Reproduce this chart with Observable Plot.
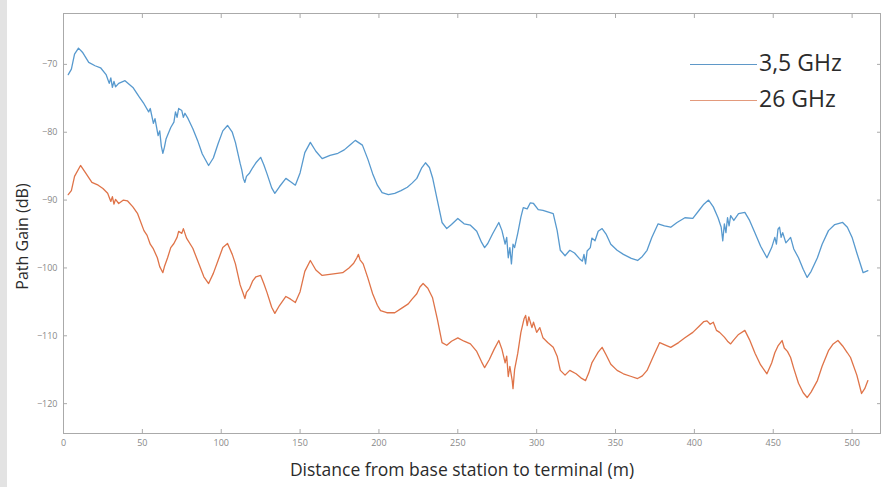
<!DOCTYPE html>
<html>
<head>
<meta charset="utf-8">
<script src="https://cdn.jsdelivr.net/npm/d3@7"></script>
<script src="https://cdn.jsdelivr.net/npm/@observablehq/plot@0.6"></script>
<style>
  html, body { margin: 0; padding: 0; background: #fff; }
  #wrap { position: relative; width: 882px; height: 487px; overflow: hidden; }
  #strip { position: absolute; left: 0; top: 0; width: 7px; height: 487px; background: #e3e3e3; }
  .leg { position: absolute; font-family: "Open Sans", sans-serif; font-size: 23px; color: #2b2b2b; line-height: 30px; white-space: nowrap; }
  .leg span.line { display: inline-block; width: 67px; height: 0; border-top: 1.5px solid; vertical-align: middle; margin-right: 2px; }
</style>
</head>
<body>
<div id="wrap">
  <div id="strip"></div>
  <div id="chart"></div>
  <div class="leg" style="left:690px; top:47px;"><span class="line" style="border-color:#5f98c8"></span>3,5 GHz</div>
  <div class="leg" style="left:690px; top:83px;"><span class="line" style="border-color:#e39a7c"></span>26 GHz</div>
</div>
<script>
const xTicks = [0, 50, 100, 150, 200, 250, 300, 350, 400, 450, 500];
const yTicks = [-120, -110, -100, -90, -80, -70];

const dist35 = [3,5,7,9.5,12,16,20,23.5,27,29,30,31,32,33,35,39,44,48,51,54,55,57,58,60,61,62,63,64,65,68,70,71,72,73,75,76,77,79,82,85,88,92,95,98,101,104,107,109,112,113,114,115,116,118,120,122,125,127,129,132,134,137,141,144,147,150,153,156.5,160,164,169,174,178,182,185,189.5,193,196,199,202,206,210,214,218,221,224,227,229.5,232,234,237,240,243,246,250,254,258,262,265,267,269,272,276,278,280,281,282,283,284,285,286,288,290,291.5,294,296,298,301,304,308,310.5,313,315,318,321,324,327,329,330,331,332,334,335,337,339,341.5,344,347,351,355,360,364,367,370,373,377,381,385,389,394,399,403,406,409,412,415,417,418,419,420,421,422,423,425,428,432,435,438.5,442,446,449,451,452,453,454,455,456,458,461,463,466,469,471.5,474,478,481,485,489,494,497,500,503,507,510];
const gain35 = [-71.5,-70.7,-68.5,-67.6,-68.2,-69.7,-70.2,-70.5,-71.5,-72.8,-72.0,-73.4,-72.5,-73.3,-72.8,-72.4,-73.4,-74.8,-75.8,-77.0,-76.5,-78.7,-78.0,-80.5,-79.8,-82.0,-83.1,-82.2,-81.0,-79.3,-78.5,-77.0,-77.8,-76.5,-76.8,-77.8,-77.2,-78.0,-79.5,-81.2,-83.2,-84.9,-83.8,-81.7,-79.8,-79.0,-80.0,-81.5,-84.6,-85.5,-86.8,-87.4,-86.5,-86.0,-85.2,-84.5,-83.7,-84.8,-86.1,-88.2,-89.0,-88.0,-86.8,-87.3,-87.8,-86.0,-83.0,-81.5,-82.8,-83.9,-83.4,-83.1,-82.6,-81.8,-81.2,-81.9,-84.0,-86.1,-87.8,-88.9,-89.2,-89.0,-88.6,-88.1,-87.5,-86.8,-85.3,-84.5,-85.2,-86.7,-90.0,-93.3,-94.2,-93.6,-92.7,-93.5,-93.7,-94.6,-96.2,-97.0,-96.4,-95.0,-93.3,-94.5,-96.5,-95.5,-98.5,-97.0,-99.4,-96.5,-97.0,-94.9,-92.5,-91.1,-91.3,-90.4,-90.5,-91.4,-91.5,-91.8,-92.0,-94.5,-97.4,-98.2,-97.4,-97.8,-98.6,-99.0,-98.0,-99.4,-97.5,-97.0,-95.6,-96.0,-94.6,-94.2,-95.0,-96.5,-97.4,-98.0,-98.6,-98.9,-98.3,-97.4,-95.5,-93.5,-93.8,-94.0,-93.3,-92.6,-92.7,-91.5,-90.6,-90.0,-91.0,-92.6,-94.0,-96.0,-93.5,-94.8,-92.6,-93.8,-92.3,-93.0,-92.0,-91.8,-93.0,-94.9,-96.8,-98.5,-97.0,-95.5,-96.5,-94.3,-94.0,-95.5,-94.8,-96.3,-95.5,-97.2,-98.5,-100.2,-101.4,-100.5,-98.5,-96.5,-94.5,-93.6,-93.3,-94.0,-95.5,-97.8,-100.7,-100.4];

const dist26 = [3,5,7,10.8,14,18,22,25,28,30,31,32,33,35,38,40.5,44,47,51,53,55,57,59.5,61,63,64,66,68,70,72,73,75,76,78,82,86,89,92,95,98,101,104,107,109,112,114,115,116,118,120,122,125,127,129,132,134,137,141,144,147,150,153,156.5,160,164,170,177,181,184,186,187,188,190,193,196,199,201,205,210,214,218.6,221,224,226,228,231,234,237,240,243,246,250,254,258,262,265,267,270,273,276,278,280,281,282,283,284.5,285,286,288,290,292,293,294,295,297,298,300,302,304,307,310.5,313,315,318,321,325,328,331,333,335,337,339,341.5,344,347,351,355,360,364,367,370,374,378,382,385,390,394,399,403,406,408,410,412,414,416,419,421,423,425,428,432,435,438.5,442,446,449,451,453,455.6,457,459,461,463,466,469,471.5,474,478,481,485,488,491,494,497,499,503,506,508,510];
const gain26 = [-89.2,-88.6,-86.5,-84.9,-86.0,-87.4,-87.8,-88.3,-89.0,-90.2,-89.5,-90.6,-89.9,-90.5,-90.0,-90.1,-91.0,-92.0,-94.5,-95.2,-96.5,-97.2,-98.5,-99.8,-100.7,-99.8,-98.5,-97.0,-96.4,-95.5,-94.6,-94.9,-94.2,-95.6,-97.1,-99.5,-101.3,-102.3,-100.8,-98.9,-97.0,-96.4,-98.0,-99.4,-102.5,-103.8,-104.5,-103.6,-103.0,-101.9,-101.3,-101.1,-102.3,-103.6,-105.8,-106.7,-105.5,-104.2,-104.6,-105.1,-103.5,-100.5,-98.9,-100.3,-101.1,-100.9,-100.7,-100.0,-99.3,-98.5,-98.0,-98.8,-99.4,-101.5,-103.8,-105.5,-106.3,-106.6,-106.6,-106.0,-105.3,-104.6,-103.8,-102.8,-102.3,-103.0,-104.4,-107.5,-111.0,-111.4,-110.8,-110.3,-110.8,-111.2,-112.3,-113.8,-114.7,-113.5,-112.0,-110.7,-112.0,-114.0,-113.0,-116.0,-114.5,-116.6,-117.8,-115.0,-112.6,-109.5,-107.5,-107.0,-108.5,-107.2,-108.8,-108.0,-109.5,-108.8,-110.3,-111.0,-111.7,-113.0,-115.1,-115.8,-115.1,-115.6,-116.2,-116.6,-115.5,-114.0,-113.2,-112.4,-111.7,-112.8,-114.2,-115.1,-115.6,-116.0,-116.3,-115.9,-115.1,-113.0,-111.0,-111.4,-111.7,-111.0,-110.3,-109.5,-108.6,-107.9,-107.8,-108.3,-108.0,-109.2,-109.5,-110.2,-110.8,-111.2,-110.6,-109.8,-109.2,-110.6,-112.6,-114.3,-115.6,-114.0,-112.5,-111.5,-110.7,-111.8,-112.3,-113.2,-114.8,-117.0,-118.4,-119.1,-118.3,-116.6,-114.5,-112.2,-111.2,-110.7,-111.5,-112.5,-113.2,-115.8,-118.5,-117.8,-116.6];

const s35 = dist35.map((d, i) => ({d, g: gain35[i]}));
const s26 = dist26.map((d, i) => ({d, g: gain26[i]}));

const chart = Plot.plot({
  width: 882,
  height: 487,
  marginLeft: 63,
  marginRight: 2,
  marginTop: 13,
  marginBottom: 54,
  style: { fontFamily: "Open Sans, sans-serif", background: "transparent" },
  x: { domain: [0, 518] },
  y: { domain: [-124.4, -62.5] },
  marks: [
    Plot.axisX(xTicks, { anchor: "bottom", tickSize: 0, tickPadding: 6, fontSize: 9, color: "#888", label: null }),
    Plot.axisY(yTicks, { anchor: "left", tickSize: 0, tickPadding: 6, fontSize: 9, color: "#888", label: null }),
    Plot.axisX(xTicks, { anchor: "bottom", tickSize: 4, dy: -4, tickFormat: () => "", stroke: "#aaa", label: null }),
    Plot.axisX(xTicks, { anchor: "top", tickSize: 4, dy: 4, tickFormat: () => "", stroke: "#aaa", label: null }),
    Plot.axisY(yTicks, { anchor: "left", tickSize: 4, dx: 4, tickFormat: () => "", stroke: "#aaa", label: null }),
    Plot.axisY(yTicks, { anchor: "right", tickSize: 4, dx: -4, tickFormat: () => "", stroke: "#aaa", label: null }),
    Plot.frame({ stroke: "#aaa" }),
    Plot.line(s35, { x: "d", y: "g", stroke: "#3a87c6", strokeWidth: 1.3, strokeOpacity: 0.85 }),
    Plot.line(s26, { x: "d", y: "g", stroke: "#d95b28", strokeWidth: 1.3, strokeOpacity: 0.85 }),
    Plot.text(["Distance from base station to terminal (m)"], { frameAnchor: "bottom", dy: 37, dx: -10, textAnchor: "middle", lineAnchor: "middle", fontSize: 17.5, fill: "#2b2b2b" }),
    Plot.text(["Path Gain (dB)"], { frameAnchor: "left", dx: -41, dy: 13, textAnchor: "middle", rotate: -90, lineAnchor: "middle", fontSize: 16, fill: "#2b2b2b" })
  ]
});
document.getElementById("chart").appendChild(chart);
</script>
</body>
</html>
